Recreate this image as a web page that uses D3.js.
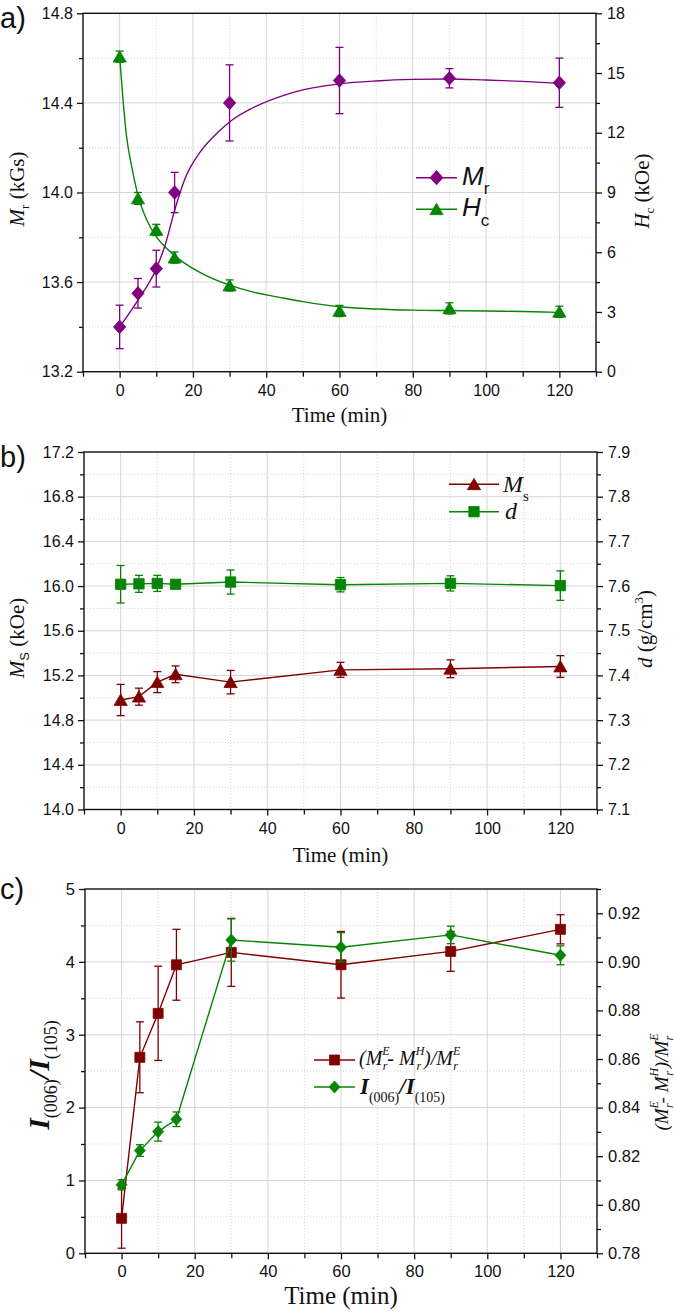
<!DOCTYPE html>
<html><head><meta charset="utf-8">
<script src="https://cdn.jsdelivr.net/npm/d3@7"></script>
<style>
body{margin:0;background:#fff}
svg text{white-space:pre}
</style></head><body>
<svg id="c" width="675" height="1314"></svg>
<script>
// ---------- data ----------
const time = [0, 5, 10, 15, 30, 60, 90, 120];
// panel a
const mrVals = [13.40, 13.55, 13.66, 14.00, 14.40, 14.50, 14.51, 14.49];
const mrErr  = [0.097, 0.066, 0.082, 0.09, 0.17, 0.148, 0.043, 0.11];
const hcVals = [15.82, 8.70, 7.12, 5.73, 4.33, 3.05, 3.18, 3.01];
const hcErr  = [0.28, 0.3, 0.28, 0.28, 0.28, 0.28, 0.28, 0.28];
const mrFitT = [0, 5, 10, 12.5, 15, 17.8, 22.4, 26.9, 30, 36, 45, 50, 60, 70, 80, 90, 100, 110, 120];
const mrFitV = [13.40, 13.52, 13.66, 13.77, 13.92, 14.06, 14.19, 14.27, 14.315, 14.375, 14.435, 14.458, 14.485, 14.498, 14.505, 14.507, 14.502, 14.496, 14.487];
const hcFitT = [0, 1, 1.9, 3.3, 5.1, 7.4, 10, 13.3, 17.8, 22.4, 30, 36, 45, 50, 60, 70, 80, 90, 100, 110, 120];
const hcFitV = [15.82, 13.48, 11.80, 10.30, 8.79, 7.62, 6.78, 6.11, 5.44, 4.94, 4.35, 4.02, 3.69, 3.52, 3.26, 3.15, 3.09, 3.07, 3.05, 3.02, 2.98];
// panel b
const msVals = [14.98, 15.01, 15.14, 15.21, 15.14, 15.25, 15.26, 15.28];
const msErr  = [0.14, 0.076, 0.094, 0.075, 0.105, 0.067, 0.08, 0.097];
const dVals  = [7.604, 7.605, 7.606, 7.604, 7.609, 7.603, 7.606, 7.601];
const dErr   = [0.042, 0.019, 0.018, 0.008, 0.027, 0.016, 0.017, 0.033];
// panel c
const ratioVals = [0.7944, 0.8607, 0.8788, 0.8988, 0.9039, 0.8988, 0.9043, 0.9134];
const ratioErr  = [0.0123, 0.0146, 0.0194, 0.0146, 0.014, 0.0137, 0.0082, 0.006];
const intVals = [0.94, 1.41, 1.67, 1.84, 4.30, 4.20, 4.37, 4.09];
const intErr  = [0.07, 0.08, 0.13, 0.10, 0.29, 0.20, 0.12, 0.13];
// ticks
const xMajorTicks = [0, 20, 40, 60, 80, 100, 120];
const xMinorTicks = [-10, 10, 30, 50, 70, 90, 110, 130];
const aLeftTicks = [13.2, 13.6, 14.0, 14.4, 14.8];
const aLeftMinor = [13.4, 13.8, 14.2, 14.6];
const aRightTicks = [0, 3, 6, 9, 12, 15, 18];
const aRightMinor = [1.5, 4.5, 7.5, 10.5, 13.5, 16.5];
const bLeftTicks = [14.0, 14.4, 14.8, 15.2, 15.6, 16.0, 16.4, 16.8, 17.2];
const bLeftMinor = [14.2, 14.6, 15.0, 15.4, 15.8, 16.2, 16.6, 17.0];
const bRightTicks = [7.1, 7.2, 7.3, 7.4, 7.5, 7.6, 7.7, 7.8, 7.9];
const bRightMinor = [7.15, 7.25, 7.35, 7.45, 7.55, 7.65, 7.75, 7.85];
const cLeftTicks = [0, 1, 2, 3, 4, 5];
const cLeftMinor = [0.5, 1.5, 2.5, 3.5, 4.5];
const cRightTicks = [0.78, 0.80, 0.82, 0.84, 0.86, 0.88, 0.90, 0.92];
const cRightMinor = [0.79, 0.81, 0.83, 0.85, 0.87, 0.89, 0.91, 0.93];

// ---------- helpers ----------
const PURPLE = '#800080', GREEN = '#058405', RED = '#800000';
const SERIF = '"Liberation Serif","Times New Roman",serif';
const SANS = '"Liberation Sans",Arial,sans-serif';
const svg = d3.select('#c');

function rich(sel, parts, base) {
  const t = sel.append('text').style('font-family', base.ff).style('font-size', base.fs + 'px').attr('fill', '#111');
  if (base.x !== undefined) t.attr('x', base.x);
  if (base.y !== undefined) t.attr('y', base.y);
  if (base.anchor) t.attr('text-anchor', base.anchor);
  let cur = 0;
  parts.forEach(p => {
    const sh = p.sh || 0;
    const ts = t.append('tspan').text(p.t);
    if (sh !== cur) ts.attr('dy', sh - cur);
    if (p.dx) ts.attr('dx', p.dx);
    if (p.fs) ts.style('font-size', p.fs + 'px');
    if (p.i) ts.style('font-style', 'italic');
    if (p.b) ts.style('font-weight', 'bold');
    if (p.ff) ts.style('font-family', p.ff);
    cur = sh;
  });
  return t;
}

function marker(g, type, cx, cy, color, s) {
  let d;
  if (type === 'diamond') d = `M${cx},${cy - s * 1.1}L${cx + s},${cy}L${cx},${cy + s * 1.1}L${cx - s},${cy}Z`;
  else if (type === 'tri') d = `M${cx},${cy - s}L${cx + s * 1.1},${cy + s * 0.9}L${cx - s * 1.1},${cy + s * 0.9}Z`;
  else d = `M${cx - s},${cy - s}h${2 * s}v${2 * s}h${-2 * s}Z`;
  g.append('path').attr('d', d).attr('fill', color).attr('stroke', color).attr('stroke-width', 0.8);
}

function panel(cfg) {
  const g = svg.append('g');
  const x = d3.scaleLinear().domain([-10, 130]).range([cfg.l, cfg.r]);
  const yL = d3.scaleLinear().domain(cfg.yLdom).range([cfg.b, cfg.t]);
  const yR = d3.scaleLinear().domain(cfg.yRdom).range([cfg.b, cfg.t]);
  const grid = g.append('g').attr('stroke', '#d6d6d6').attr('stroke-width', 1);
  xMajorTicks.forEach(v => grid.append('line').attr('x1', x(v)).attr('x2', x(v)).attr('y1', cfg.t).attr('y2', cfg.b));
  xMinorTicks.filter(v => v > -10 && v < 130).forEach(v => grid.append('line').attr('x1', x(v)).attr('x2', x(v)).attr('y1', cfg.t).attr('y2', cfg.b).attr('stroke-dasharray', '1,2'));
  cfg.yLmaj.slice(1, -1).forEach(v => grid.append('line').attr('y1', yL(v)).attr('y2', yL(v)).attr('x1', cfg.l).attr('x2', cfg.r));
  cfg.yLmin.forEach(v => grid.append('line').attr('y1', yL(v)).attr('y2', yL(v)).attr('x1', cfg.l).attr('x2', cfg.r).attr('stroke-dasharray', '1,2'));
  g.append('rect').attr('x', cfg.l).attr('y', cfg.t).attr('width', cfg.r - cfg.l).attr('height', cfg.b - cfg.t)
    .attr('fill', 'none').attr('stroke', '#111').attr('stroke-width', 1.4);
  const fs = cfg.tickFs || 16;
  function ax(gen, tr) {
    const a = g.append('g').attr('transform', tr).call(gen);
    a.select('.domain').remove();
    a.selectAll('line').attr('stroke', '#111').attr('stroke-width', 1.3);
    a.selectAll('text').style('font-size', fs + 'px').style('font-family', SANS).attr('fill', '#111');
    return a;
  }
  ax(d3.axisBottom(x).tickValues(xMajorTicks).tickSize(6).tickPadding(cfg.xPad || 7).tickFormat(d3.format('d')), `translate(0,${cfg.b})`);
  ax(d3.axisBottom(x).tickValues(xMinorTicks).tickSize(5).tickFormat(''), `translate(0,${cfg.b})`);
  ax(d3.axisLeft(yL).tickValues(cfg.yLmaj).tickSize(6).tickPadding(4).tickFormat(d3.format(cfg.lf)), `translate(${cfg.l},0)`);
  ax(d3.axisLeft(yL).tickValues(cfg.yLmin).tickSize(4).tickFormat(''), `translate(${cfg.l},0)`);
  ax(d3.axisRight(yR).tickValues(cfg.yRmaj).tickSize(6).tickPadding(5).tickFormat(d3.format(cfg.rf)), `translate(${cfg.r},0)`);
  ax(d3.axisRight(yR).tickValues(cfg.yRmin).tickSize(4).tickFormat(''), `translate(${cfg.r},0)`);
  return { g, x, yL, yR };
}

function errorBars(g, x, y, vals, errs, color, cap) {
  time.forEach((t, i) => {
    const cx = x(t), y1 = y(vals[i] + errs[i]), y2 = y(vals[i] - errs[i]);
    g.append('line').attr('x1', cx).attr('x2', cx).attr('y1', y1).attr('y2', y2).attr('stroke', color).attr('stroke-width', 1.3);
    [y1, y2].forEach(yy => g.append('line').attr('x1', cx - cap).attr('x2', cx + cap).attr('y1', yy).attr('y2', yy).attr('stroke', color).attr('stroke-width', 1.3));
  });
}
function seriesLine(g, xs, ys, x, y, color, curve) {
  const line = d3.line().x(d => x(d[0])).y(d => y(d[1])).curve(curve || d3.curveLinear);
  g.append('path').datum(xs.map((t, i) => [t, ys[i]])).attr('d', line).attr('fill', 'none').attr('stroke', color).attr('stroke-width', 1.4);
}
function points(g, x, y, vals, type, color, s) {
  time.forEach((t, i) => marker(g, type, x(t), y(vals[i]), color, s));
}
function rotTitle(x, y, parts, base) {
  const gg = svg.append('g').attr('transform', `translate(${x},${y}) rotate(-90)`);
  rich(gg, parts, Object.assign({ anchor: 'middle', x: 0, y: 0 }, base));
}
function legendRow(x1, x2, y, color, type, s) {
  svg.append('line').attr('x1', x1).attr('x2', x2).attr('y1', y).attr('y2', y).attr('stroke', color).attr('stroke-width', 1.4);
  marker(svg, type, (x1 + x2) / 2, y, color, s);
}
function panelLabel(txt, y) {
  svg.append('text').attr('x', 0).attr('y', y).style('font-size', '29px').style('font-family', SANS).attr('fill', '#111').text(txt);
}

// ---------- panel a ----------
const A = panel({ l: 83, r: 596, t: 13.3, b: 371.7, yLdom: [13.2, 14.8], yRdom: [0, 18],
  yLmaj: aLeftTicks, yLmin: aLeftMinor, yRmaj: aRightTicks, yRmin: aRightMinor, lf: '.1f', rf: 'd' });
seriesLine(A.g, hcFitT, hcFitV, A.x, A.yR, GREEN, d3.curveMonotoneX);
errorBars(A.g, A.x, A.yR, hcVals, hcErr, GREEN, 4);
points(A.g, A.x, A.yR, hcVals, 'tri', GREEN, 6);
seriesLine(A.g, mrFitT, mrFitV, A.x, A.yL, PURPLE, d3.curveMonotoneX);
errorBars(A.g, A.x, A.yL, mrVals, mrErr, PURPLE, 4);
points(A.g, A.x, A.yL, mrVals, 'diamond', PURPLE, 6.2);
panelLabel('a)', 28);
rotTitle(24, 189, [{ t: 'M', i: true }, { t: 'r', fs: 13, sh: 5 }, { t: ' (kGs)', sh: 0 }], { ff: SERIF, fs: 21 });
rotTitle(649, 191, [{ t: 'H', i: true }, { t: 'c', fs: 13, sh: 5 }, { t: ' (kOe)', sh: 0 }], { ff: SERIF, fs: 21 });
rich(svg, [{ t: 'Time (min)' }], { ff: SERIF, fs: 21, x: 339.5, y: 422, anchor: 'middle' });
legendRow(416, 457, 177.7, PURPLE, 'diamond', 6.5);
legendRow(416, 457, 209.3, GREEN, 'tri', 6);
rich(svg, [{ t: 'M', i: true }, { t: 'r', fs: 17, sh: 9 }], { ff: SANS, fs: 26, x: 462, y: 184.5 });
rich(svg, [{ t: 'H', i: true }, { t: 'c', fs: 17, sh: 10 }], { ff: SANS, fs: 26, x: 462, y: 215.5 });

// ---------- panel b ----------
const B = panel({ l: 84, r: 597, t: 452, b: 809.5, yLdom: [14.0, 17.2], yRdom: [7.1, 7.9],
  yLmaj: bLeftTicks, yLmin: bLeftMinor, yRmaj: bRightTicks, yRmin: bRightMinor, lf: '.1f', rf: '.1f' });
seriesLine(B.g, time, dVals, B.x, B.yR, GREEN);
errorBars(B.g, B.x, B.yR, dVals, dErr, GREEN, 4);
points(B.g, B.x, B.yR, dVals, 'square', GREEN, 5.2);
seriesLine(B.g, time, msVals, B.x, B.yL, RED);
errorBars(B.g, B.x, B.yL, msVals, msErr, RED, 4);
points(B.g, B.x, B.yL, msVals, 'tri', RED, 6);
panelLabel('b)', 467);
rotTitle(24, 638, [{ t: 'M', i: true }, { t: 'S', fs: 13, sh: 5, ff: SANS }, { t: ' (kOe)', sh: 0 }], { ff: SERIF, fs: 21 });
rotTitle(652, 629, [{ t: 'd', i: true }, { t: ' (g/cm' }, { t: '3', fs: 13, sh: -9 }, { t: ')', sh: 0 }], { ff: SERIF, fs: 21 });
rich(svg, [{ t: 'Time (min)' }], { ff: SERIF, fs: 21, x: 340.5, y: 862, anchor: 'middle' });
legendRow(449, 499, 484.3, RED, 'tri', 6);
legendRow(449, 499, 511.7, GREEN, 'square', 5.2);
rich(svg, [{ t: 'M', i: true }, { t: 's', fs: 15, sh: 9 }], { ff: SERIF, fs: 24, x: 503, y: 492 });
rich(svg, [{ t: 'd', i: true }], { ff: SERIF, fs: 24, x: 505, y: 518.5 });

// ---------- panel c ----------
const C = panel({ l: 85, r: 597, t: 889, b: 1253.3, yLdom: [0, 5], yRdom: [0.78, 0.93],
  yLmaj: cLeftTicks, yLmin: cLeftMinor, yRmaj: cRightTicks, yRmin: cRightMinor, lf: 'd', rf: '.2f', tickFs: 16.5, xPad: 6 });
seriesLine(C.g, time, ratioVals, C.x, C.yR, RED);
errorBars(C.g, C.x, C.yR, ratioVals, ratioErr, RED, 4);
points(C.g, C.x, C.yR, ratioVals, 'square', RED, 5);
seriesLine(C.g, time, intVals, C.x, C.yL, GREEN);
errorBars(C.g, C.x, C.yL, intVals, intErr, GREEN, 4);
points(C.g, C.x, C.yL, intVals, 'diamond', GREEN, 5.5);
panelLabel('c)', 899);
rotTitle(49, 1075, [{ t: 'I', i: true, b: true }, { t: '(006)', fs: 18, sh: 8 }, { t: '/', i: true, b: true, sh: 0 }, { t: 'I', i: true, b: true }, { t: '(105)', fs: 18, sh: 8 }], { ff: SERIF, fs: 30 });
function ratioParts(sup, sub, dxs) {
  return [
    { t: '(', i: true }, { t: 'M', i: true }, { t: 'E', fs: 12, sh: sup, i: true }, { t: 'r', fs: 12, sh: sub, dx: dxs, i: true },
    { t: '- ', i: true, sh: 0 }, { t: 'M', i: true }, { t: 'H', fs: 12, sh: sup, i: true }, { t: 'r', fs: 12, sh: sub, dx: dxs - 1, i: true },
    { t: ')/', i: true, sh: 0, dx: 3 }, { t: 'M', i: true }, { t: 'E', fs: 12, sh: sup, i: true }, { t: 'r', fs: 12, sh: sub, dx: dxs, i: true }
  ];
}
rotTitle(668, 1082, ratioParts(-10, 5, -7), { ff: SERIF, fs: 19 });
rich(svg, [{ t: 'Time (min)' }], { ff: SERIF, fs: 25, x: 341, y: 1304, anchor: 'middle' });
legendRow(314, 355, 1060, RED, 'square', 5);
legendRow(314, 355, 1087, GREEN, 'diamond', 5.5);
rich(svg, ratioParts(-10, 5, -7), { ff: SERIF, fs: 20, x: 359, y: 1065 });
rich(svg, [{ t: 'I', i: true, b: true }, { t: '(006)', fs: 14, sh: 8 }, { t: '/', i: true, b: true, sh: 0 }, { t: 'I', i: true, b: true }, { t: '(105)', fs: 14, sh: 8 }], { ff: SERIF, fs: 23, x: 360, y: 1094 });
</script>
</body></html>
